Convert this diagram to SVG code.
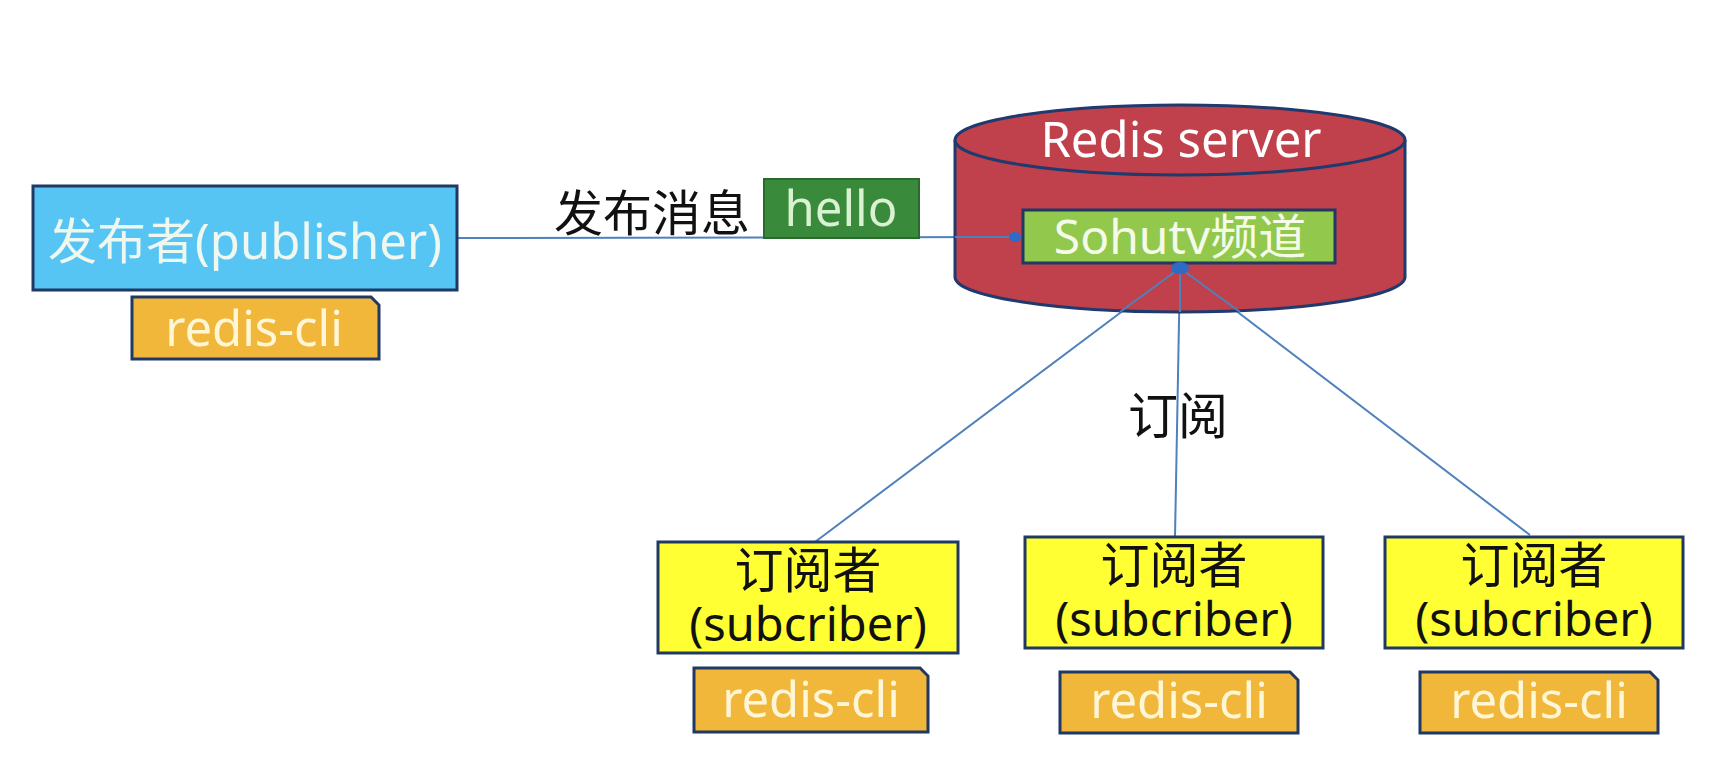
<svg xmlns="http://www.w3.org/2000/svg" width="1710" height="758" viewBox="0 0 1710 758">
<style>
.t{font-family:"Noto Sans","Noto Sans CJK SC",sans-serif;text-anchor:middle}
.box{stroke:#1f3864;stroke-width:3}
.pub{fill:#56c5f3}
.sub{fill:#ffff33}
.cli{fill:#f0b73a;stroke:#1f3864;stroke-width:3}
.clitxt{fill:#fff6d6;font-size:49px}
.subcn{fill:#111;font-size:49px}
.suben{fill:#111;font-size:47px}
.conn{stroke:#4f81bd;stroke-width:2;fill:none}
</style>
<rect width="1710" height="758" fill="#ffffff"/>
<g id="connectors">
<line class="conn" x1="457" y1="238" x2="1015" y2="237"/>
<line class="conn" x1="1180" y1="268" x2="815" y2="542"/>
<line class="conn" x1="1180" y1="268" x2="1175" y2="537"/>
<line class="conn" x1="1180" y1="268" x2="1530" y2="535"/>
</g>
<g id="redis-server">
<path d="M955 140 V277 A225 35 0 0 0 1405 277 V140" fill="#c0404b" stroke="#1f3a6e" stroke-width="3"/>
<ellipse cx="1180" cy="140" rx="225" ry="35" fill="#c0404b" stroke="#1f3a6e" stroke-width="3"/>
<text class="t" x="1181" y="157" font-size="49" fill="#ffffff">Redis server</text>
</g>
<g id="connectors-over">
<line class="conn" x1="1180" y1="268" x2="1120" y2="312"/>
<line class="conn" x1="1180" y1="268" x2="1180" y2="312"/>
<line class="conn" x1="1180" y1="268" x2="1240" y2="312"/>
<line class="conn" x1="955" y1="237" x2="1015" y2="237"/>
<ellipse cx="1015" cy="237" rx="6" ry="5" fill="#2e6bc4"/>
</g>
<g id="channel">
<rect x="1023" y="210" width="312" height="53" fill="#92c84b" stroke="#1f3864" stroke-width="3"/>
<text class="t" x="1180" y="254" font-size="48" fill="#f4fbe8">Sohutv频道</text>
<ellipse cx="1180" cy="268" rx="9" ry="6" fill="#2e6bc4"/>
</g>
<g id="publisher">
<rect class="box pub" x="33" y="186" width="424" height="104"/>
<text class="t" x="245" y="259" font-size="49" fill="#eef7f0">发布者(publisher)</text>
</g>
<g id="publisher-cli">
<path class="cli" d="M132 297 H371 L379 305 V359 H132 Z"/>
<text class="t clitxt" x="254" y="346">redis-cli</text>
</g>
<g id="publish-label">
<text class="t" x="652" y="231" font-size="49" fill="#111">发布消息</text>
</g>
<g id="hello">
<rect x="764" y="179" width="155" height="59" fill="#3a8a3c" stroke="#2b6a2d" stroke-width="2"/>
<text class="t" x="841" y="226" font-size="49" fill="#d8f2d2">hello</text>
</g>
<g id="subscribe-label">
<text class="t" x="1178" y="434" font-size="50" fill="#111">订阅</text>
</g>
<g id="subscriber-1">
<rect class="box sub" x="658" y="542" width="300" height="111"/>
<text class="t subcn" x="808" y="588">订阅者</text>
<text class="t suben" x="808" y="641">(subcriber)</text>
</g>
<g id="subscriber-1-cli">
<path class="cli" d="M694 668 H920 L928 676 V732 H694 Z"/>
<text class="t clitxt" x="811" y="717">redis-cli</text>
</g>
<g id="subscriber-2">
<rect class="box sub" x="1025" y="537" width="298" height="111"/>
<text class="t subcn" x="1174" y="583">订阅者</text>
<text class="t suben" x="1174" y="636">(subcriber)</text>
</g>
<g id="subscriber-2-cli">
<path class="cli" d="M1060 672 H1290 L1298 680 V733 H1060 Z"/>
<text class="t clitxt" x="1179" y="718">redis-cli</text>
</g>
<g id="subscriber-3">
<rect class="box sub" x="1385" y="537" width="298" height="111"/>
<text class="t subcn" x="1534" y="583">订阅者</text>
<text class="t suben" x="1534" y="636">(subcriber)</text>
</g>
<g id="subscriber-3-cli">
<path class="cli" d="M1420 672 H1650 L1658 680 V733 H1420 Z"/>
<text class="t clitxt" x="1539" y="718">redis-cli</text>
</g>
</svg>
